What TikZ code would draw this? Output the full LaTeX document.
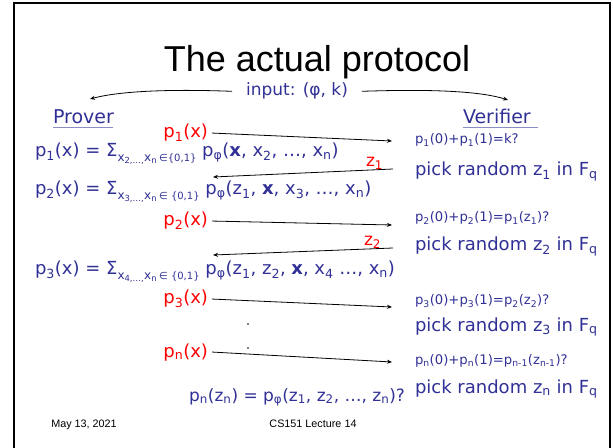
\documentclass[tikz,border=0pt]{standalone}
\usepackage{fontspec}
\setmainfont{DejaVu Sans}
\newfontfamily\arialf{Liberation Sans}
\usetikzlibrary{arrows.meta}
\definecolor{pblue}{RGB}{48,48,150}
\newcommand\lo[1]{\textsubscript{#1}}
\newcommand\sumsub[2]{\raisebox{-0.45ex}{\fontsize{12bp}{12bp}\selectfont x\textsubscript{#1}x\textsubscript{n}\,{\fontsize{10bp}{10bp}\selectfont ∈#2}}}
\begin{document}
\begin{tikzpicture}[x=1bp,y=-1bp,
  every node/.style={inner sep=0pt,outer sep=0pt},
  big/.style={text=pblue,font=\fontsize{18bp}{20bp}\selectfont,anchor=base west},
  small/.style={text=pblue,font=\fontsize{13.2bp}{15bp}\selectfont,anchor=base west},
  redtxt/.style={text=red,font=\fontsize{18bp}{20bp}\selectfont,anchor=base east},
  head/.style={text=pblue,font=\fontsize{19bp}{21bp}\selectfont,anchor=base west},
  msg/.style={-{Stealth[length=5bp,width=4bp]},line width=0.8bp,black},
  foot/.style={font=\arialf\fontsize{10.8bp}{12bp}\selectfont,anchor=base}]
\useasboundingbox (0,0) rectangle (613,448);
\draw[line width=2.5bp] (14,448) -- (14,3) -- (610,3) -- (610,448);
% title
\node[font=\arialf\fontsize{36bp}{40bp}\selectfont,anchor=base] (title) at (317,72) {The actual protocol};
\node[text=pblue,font=\fontsize{17bp}{19bp}\selectfont,anchor=base] (input) at (297,96) {input: (φ, k)};
\node[head] (prover) at (53,124) {Prover};
\node[head] (verifier) at (463,124) {Verifier};
\draw[pblue!55,line width=1bp] (prover.south west)++(0,3) -- ++(60,0);
\draw[pblue!55,line width=1bp] (verifier.south west)++(0,3) -- ++(75,0);
\coordinate (inL) at (90,99);
\coordinate (inR) at (508,100);
\draw[msg] ([xshift=-14bp]input.west) .. controls (170,89) and (120,91) .. (inL);
\draw[msg] ([xshift=14bp]input.east) .. controls (430,89) and (480,91) .. (inR);
% prover formulas
\node[big] (f1) at (35,157) {p\lo{1}(x) = Σ\sumsub{2,…,}{\{0,1\}} p\lo{φ}(\textbf{x}, x\lo{2}, …, x\lo{n})};
\node[big] (f2) at (35,195) {p\lo{2}(x) = Σ\sumsub{3,…,}{ \{0,1\}} p\lo{φ}(z\lo{1}, \textbf{x}, x\lo{3}, …, x\lo{n})};
\node[big] (f3) at (35,275) {p\lo{3}(x) = Σ\sumsub{4,…,}{ \{0,1\}} p\lo{φ}(z\lo{1}, z\lo{2}, \textbf{x}, x\lo{4} …, x\lo{n})};
\node[big,font=\fontsize{17bp}{19bp}\selectfont,anchor=base east] (fn) at (405,401) {p\lo{n}(z\lo{n}) = p\lo{φ}(z\lo{1}, z\lo{2}, …, z\lo{n})?};
% red messages
\node[redtxt] (r1) at (208,138) {p\lo{1}(x)};
\node[redtxt] (r2) at (208,226) {p\lo{2}(x)};
\node[redtxt] (r3) at (208,304) {p\lo{3}(x)};
\node[redtxt] (rn) at (208,357) {p\lo{n}(x)};
\node[text=red,font=\fontsize{17bp}{19bp}\selectfont,anchor=base west] (z1) at (366,167) {z\lo{1}};
\node[text=red,font=\fontsize{17bp}{19bp}\selectfont,anchor=base west] (z2) at (364,246) {z\lo{2}};
% verifier
\node[small] (c1) at (415,144) {p\lo{1}(0)+p\lo{1}(1)=k?};
\node[big] (k1) at (415,176) {pick random z\lo{1} in F\lo{q}};
\node[small] (c2) at (415,222) {p\lo{2}(0)+p\lo{2}(1)=p\lo{1}(z\lo{1})?};
\node[big] (k2) at (415,251) {pick random z\lo{2} in F\lo{q}};
\node[small] (c3) at (415,305) {p\lo{3}(0)+p\lo{3}(1)=p\lo{2}(z\lo{2})?};
\node[big] (k3) at (415,331) {pick random z\lo{3} in F\lo{q}};
\node[small] (cn) at (415,364) {p\lo{n}(0)+p\lo{n}(1)=p\lo{n-1}(z\lo{n-1})?};
\node[big] (kn) at (415,393) {pick random z\lo{n} in F\lo{q}};
% arrows
\coordinate (a1) at (392,141);
\coordinate (b1s) at (393,169);
\coordinate (b1e) at (213,177);
\coordinate (a2) at (392,225);
\coordinate (b2s) at (393,248);
\coordinate (b2e) at (213,255);
\coordinate (a3) at (392,307);
\coordinate (an) at (392,362);
\draw[msg] ([xshift=4bp]r1.east) -- (a1);
\draw[msg] (b1s) -- (b1e);
\draw[msg] ([xshift=4bp]r2.east) -- (a2);
\draw[msg] (b2s) -- (b2e);
\draw[msg] ([xshift=4bp]r3.east) -- (a3);
\draw[msg] ([xshift=4bp]rn.east) -- (an);
% dots
\fill (248,324) circle (0.8);
\fill (248,348) circle (0.8);
% footer
\node[foot] (date) at (84,427) {May 13, 2021};
\node[foot] (lec) at (313,427) {CS151 Lecture 14};
\end{tikzpicture}
\end{document}
